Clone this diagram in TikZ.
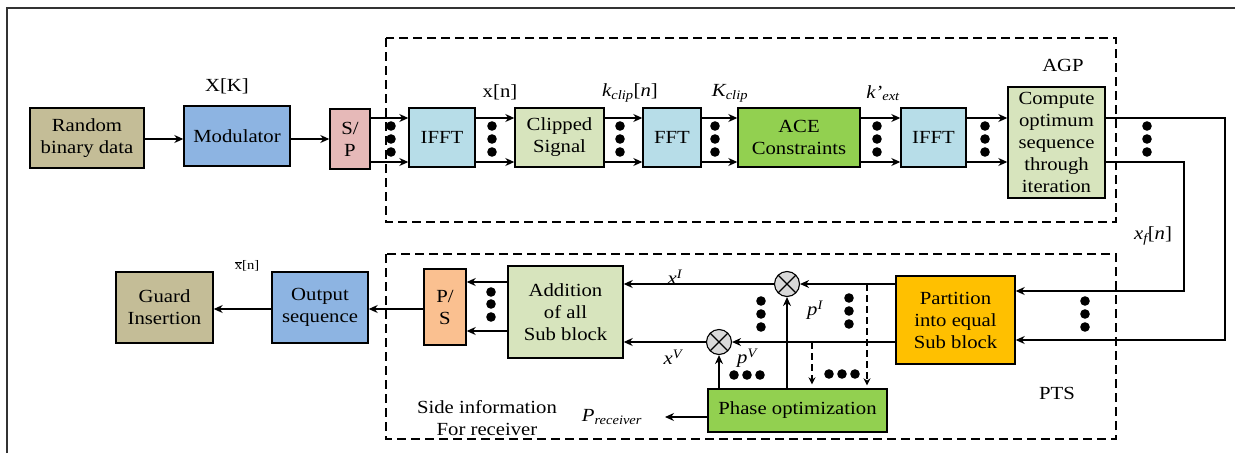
\documentclass[tikz,border=0pt]{standalone}
\usepackage{fontspec}
\setmainfont[FakeStretch=1.12]{Liberation Serif}
\usetikzlibrary{arrows.meta}
\definecolor{cTan}{HTML}{C4BD97}
\definecolor{cBlue}{HTML}{8DB4E2}
\definecolor{cPink}{HTML}{E6B9B8}
\definecolor{cSky}{HTML}{B7DDE8}
\definecolor{cPale}{HTML}{D7E4BD}
\definecolor{cGreen}{HTML}{92D050}
\definecolor{cOrange}{HTML}{FFC000}
\definecolor{cPeach}{HTML}{FAC090}
\definecolor{cMult}{HTML}{D9D9D9}
\begin{document}
\begin{tikzpicture}[x=1pt, y=-1pt, >={Stealth[length=9pt,width=8pt]}, line width=1.2pt,
		font=\fontsize{18.5}{22}\selectfont,
		blk/.style={draw, line width=1.4pt, align=center, inner sep=1pt},
		mult/.style={circle, draw, line width=1.1pt, fill=cMult, minimum size=25pt, inner sep=0pt,
			path picture={\draw[line width=1.1pt] (path picture bounding box.north west) -- (path picture bounding box.south east)
				(path picture bounding box.north east) -- (path picture bounding box.south west);}},
		grp/.style={line width=1.5pt, dash pattern=on 9pt off 5pt},
		side/.style={line width=1.2pt, dash pattern=on 7pt off 4pt, -{Stealth[length=7pt,width=7pt]}}]
	\useasboundingbox (0,0) rectangle (1235,453);
	\draw[line width=1.6pt, black!80] (7,453) -- (7,8) -- (1235,8);
	\draw[grp] (386,38) rectangle (1116,222);
	\draw[grp] (386,254) rectangle (1116,439);
	\node[blk, fill=cTan, minimum width=114pt, minimum height=60pt] (rand) at (87,138) {Random\\binary data};
	\node[blk, fill=cBlue, minimum width=106pt, minimum height=60pt] (mod) at (237,136) {Modulator};
	\node[blk, fill=cPink, minimum width=40pt, minimum height=60pt] (sp) at (350,139) {S/\\P};
	\node[blk, fill=cSky, minimum width=66pt, minimum height=59pt] (ifftA) at (442,137.5) {IFFT};
	\node[blk, fill=cPale, minimum width=89pt, minimum height=59pt] (clip) at (559.5,137.5) {Clipped\\Signal};
	\node[blk, fill=cSky, minimum width=58pt, minimum height=59pt] (fft) at (672,137.5) {FFT};
	\node[blk, fill=cGreen, minimum width=122pt, minimum height=59pt] (ace) at (799,137.5) {ACE\\Constraints};
	\node[blk, fill=cSky, minimum width=65pt, minimum height=59pt] (ifftB) at (933.5,137.5) {IFFT};
	\node[blk, fill=cPale, minimum width=97pt, minimum height=111pt] (comp) at (1056.5,142.5) {Compute\\optimum\\sequence\\through\\iteration};
	\node[blk, fill=cOrange, minimum width=119pt, minimum height=88pt] (part) at (955.5,320) {Partition\\into equal\\Sub block};
	\node[blk, fill=cGreen, minimum width=179pt, minimum height=43pt] (phase) at (797.5,410.5) {Phase optimization};
	\node[blk, fill=cPale, minimum width=115pt, minimum height=92pt] (add) at (565.5,312) {Addition\\of all\\Sub block};
	\node[blk, fill=cPeach, minimum width=42pt, minimum height=76pt] (ps) at (445,307) {P/\\S};
	\node[blk, fill=cBlue, minimum width=96pt, minimum height=71pt] (out) at (320,307.5) {Output\\sequence};
	\node[blk, fill=cTan, minimum width=97pt, minimum height=71pt] (guard) at (164.5,307.5) {Guard\\Insertion};
	\node[mult] (mA) at (787,284) {};
	\node[mult] (mB) at (719,342) {};
	\node (lXK) at (227,86) {X[K]};
	\node (lxn) at (500,92) {x[n]};
	\node (lkc) at (630,93) {{\itshape k}\textsubscript{\itshape clip}[{\itshape n}]};
	\node (lKc) at (730,93) {{\itshape K}\textsubscript{\itshape clip}};
	\node (lke) at (883,93) {{\itshape k'}\textsubscript{\itshape ext}};
	\node (lAGP) at (1063,65) {AGP};
	\node (lxf) at (1153,236) {{\itshape x}\textsubscript{\itshape f}[{\itshape n}]};
	\node (lPTS) at (1057,393) {PTS};
	\node (lxI) at (675,277) {{\itshape x}\textsuperscript{\itshape I}};
	\node (lxV) at (673,357) {{\itshape x}\textsuperscript{\itshape V}};
	\node (lpI) at (815,310) {{\itshape p}\textsuperscript{\itshape I}};
	\node (lpV) at (747,358) {{\itshape p}\textsuperscript{\itshape V}};
	\node (lPr) at (612,417) {{\itshape P}\textsubscript{\itshape receiver}};
	\node[align=center] (lside) at (487,418) {Side information\\For receiver};
	\node[font=\fontsize{13}{15}\selectfont] (lxb) at (247,266) {$\overline{\mbox{x}}$[n]};
	\coordinate (up) at (0,118);
	\coordinate (lo) at (0,162);
	\coordinate (rA) at (1225,340);
	\coordinate (rB) at (1184,291);
	\coordinate (dA) at (867,284);
	\coordinate (dB) at (812,342);
	\coordinate (prx) at (665,417);
	\coordinate (pu) at (0,282);
	\coordinate (pl) at (0,331);
	\draw[->] (rand.east |- 0,139) -- (mod.west |- 0,139);
	\draw[->] (mod.east |- 0,139) -- (sp.west |- 0,139);
	\foreach \a/\b in {sp/ifftA, ifftA/clip, clip/fft, fft/ace, ace/ifftB, ifftB/comp} {
		\draw[->] (\a.east |- up) -- (\b.west |- up);
		\draw[->] (\a.east |- lo) -- (\b.west |- lo);
	}
	\draw[->] (comp.east |- up) -| (rA) -- (rA -| part.east);
	\draw[->] (comp.east |- lo) -| (rB) -- (rB -| part.east);
	\draw[->] (part.west |- mA) -- (mA.east);
	\draw[->] (part.west |- mB) -- (mB.east);
	\draw[->] (mA.west) -- (mA.west -| add.east);
	\draw[->] (mB.west) -- (mB.west -| add.east);
	\draw[->] (phase.north -| mA) -- (mA.south);
	\draw[->] (phase.north -| mB) -- (mB.south);
	\draw[side] (dA) -- ([yshift=3pt]dA |- phase.north);
	\draw[side] (dB) -- ([yshift=4pt]dB |- phase.north);
	\draw[->] (phase.west |- prx) -- (prx);
	\draw[->] (add.west |- pu) -- (ps.east |- pu);
	\draw[->] (add.west |- pl) -- (ps.east |- pl);
	\draw[->] (ps.west |- 0,309) -- (out.east |- 0,309);
	\draw[->] (out.west |- 0,309) -- (guard.east |- 0,309);
	\foreach \x in {391,492,620,715,877,985,1147}
		\foreach \y in {126,139,152}
			\fill (\x,\y) circle (4.8pt);
	\foreach \x/\y in {1085/301, 1085/314, 1085/327, 849/298, 849/311, 849/324, 761/301, 761/314, 761/327,
		491/292, 491/304, 491/317, 734/375, 747/375, 760/375, 829/374, 842/374, 855/374}
		\fill (\x,\y) circle (4.8pt);
\end{tikzpicture}
\end{document}
